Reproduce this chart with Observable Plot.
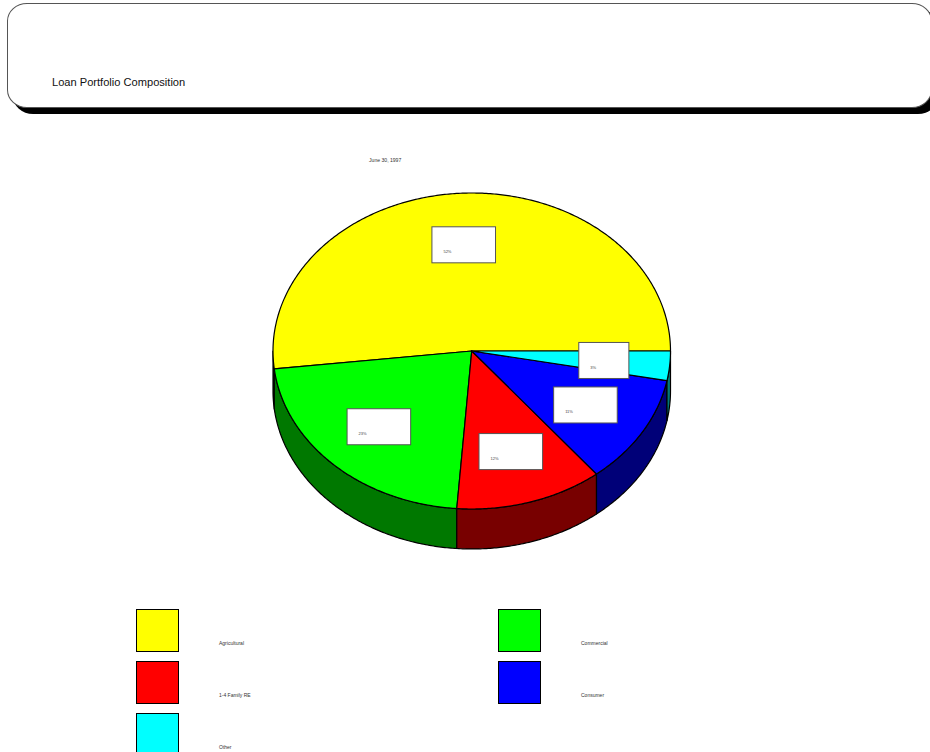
<!DOCTYPE html>
<html>
<head>
<meta charset="utf-8">
<script src="https://cdn.jsdelivr.net/npm/d3@7"></script>
<script src="https://cdn.jsdelivr.net/npm/@observablehq/plot@0.6"></script>
<style>
  html, body { margin: 0; padding: 0; background: #fff; }
  body { width: 930px; height: 752px; overflow: hidden; position: relative; font-family: "Liberation Sans", Arial, sans-serif; color: #000; }
  #banner { position: absolute; left: 7px; top: 3px; width: 925px; height: 105px; box-sizing: border-box; background: #fff; border: 1px solid #555; border-radius: 20px / 18px; box-shadow: 6px 6px 0 #000; }
  #title { position: absolute; left: 52px; top: 76px; font-size: 11.1px; line-height: 13px; white-space: nowrap; color: #111; }
  #date { position: absolute; left: 369px; top: 157px; font-size: 5.1px; line-height: 7px; white-space: nowrap; color: #333; }
  #chart { position: absolute; left: 0; top: 150px; }
  .swatch { position: absolute; width: 43px; height: 43px; box-sizing: border-box; border: 1.3px solid #000; }
  .entry { position: absolute; font-size: 5px; line-height: 7px; white-space: nowrap; color: #333; }
</style>
</head>
<body>
<div id="banner"></div>
<div id="title"></div>
<div id="date"></div>
<div id="chart"></div>
<div id="legend"></div>
<script>
const titleText = "Loan Portfolio Composition";
const dateText = "June 30, 1997";
const categories = ["Agricultural", "Commercial", "1-4 Family RE", "Consumer", "Other"];
const shares = [51.8, 22.0, 12.0, 11.2, 3.0];
const shareLabels = ["52%", "23%", "12%", "11%", "3%"];
const topColors = ["#ffff00", "#00ff00", "#ff0000", "#0000ff", "#00ffff"];
const sideColors = ["#787800", "#007800", "#780000", "#000078", "#007878"];
const legendOrder = ["Agricultural", "Commercial", "1-4 Family RE", "Consumer", "Other"];

document.getElementById("title").textContent = titleText;
document.getElementById("date").textContent = dateText;

// pie geometry in unit-ellipse coordinates
const depth = 0.253, labelRadius = 0.67;
const total = d3.sum(shares);
let running = 0;
const slices = categories.map((name, i) => {
  const a0 = running / total * 2 * Math.PI;
  running += shares[i];
  return {name, i, a0, a1: running / total * 2 * Math.PI, label: shareLabels[i]};
});
const arc = (a0, a1) => {
  const n = Math.max(2, Math.ceil((a1 - a0) / 0.01));
  return d3.range(n + 1).map(k => {
    const a = a0 + (a1 - a0) * k / n;
    return {x: Math.cos(a), y: Math.sin(a)};
  });
};
const topFace = s => [{x: 0, y: 0}, ...arc(s.a0, s.a1), {x: 0, y: 0}];
const sideFace = s => {
  const a0 = Math.max(s.a0, Math.PI), a1 = s.a1;
  if (a1 <= a0) return null;
  const upper = arc(a0, a1);
  const lower = upper.map(p => ({x: p.x, y: p.y - depth})).reverse();
  return [...upper, ...lower, upper[0]];
};
const boxes = slices.map(s => {
  const mid = (s.a0 + s.a1) / 2;
  const cx = labelRadius * Math.cos(mid), cy = labelRadius * Math.sin(mid);
  const hw = s.label.length === 2 ? 0.126 : 0.16, hh = 0.114;
  return {label: s.label, cx, cy, x1: cx - hw, x2: cx + hw, y1: cy - hh, y2: cy + hh, left: cx - hw};
});

const sideMarks = slices.map(s => {
  const f = sideFace(s);
  return f && Plot.line(f, {x: "x", y: "y", fill: sideColors[s.i], stroke: "#000", strokeWidth: 1.2, curve: "linear"});
}).filter(Boolean);
const topMarks = slices.map(s =>
  Plot.line(topFace(s), {x: "x", y: "y", fill: topColors[s.i], stroke: "#000", strokeWidth: 1.2, curve: "linear"})
);

const plot = Plot.plot({
  width: 930,
  height: 450,
  margin: 0,
  style: {background: "transparent", overflow: "visible"},
  x: {domain: [-1, 1], range: [272.5, 670], axis: null},
  y: {domain: [1, -1], range: [42.5, 358.5], axis: null},
  marks: [
    ...sideMarks,
    ...topMarks,
    Plot.rect(boxes, {x1: "x1", x2: "x2", y1: "y1", y2: "y2", fill: "#fff", stroke: "#555", strokeWidth: 1}),
    Plot.text(boxes, {x: "left", y: "cy", text: "label", dx: 11, dy: 6.5, textAnchor: "start", fontSize: 4, fontFamily: "Liberation Sans, Arial, sans-serif", fill: "#444"})
  ]
});
document.getElementById("chart").appendChild(plot);

// legend, two columns, reading order
const legend = document.getElementById("legend");
const colX = [135.5, 497.5], rowY = [608.5, 660.5, 712.5];
legendOrder.forEach((name, i) => {
  const col = i % 2, row = Math.floor(i / 2);
  const sw = document.createElement("div");
  sw.className = "swatch";
  sw.style.left = colX[col] + "px";
  sw.style.top = rowY[row] + "px";
  sw.style.background = topColors[categories.indexOf(name)];
  legend.appendChild(sw);
  const t = document.createElement("div");
  t.className = "entry";
  t.style.left = (colX[col] + 83.5) + "px";
  t.style.top = (rowY[row] + 31) + "px";
  t.textContent = name;
  legend.appendChild(t);
});
</script>
</body>
</html>
